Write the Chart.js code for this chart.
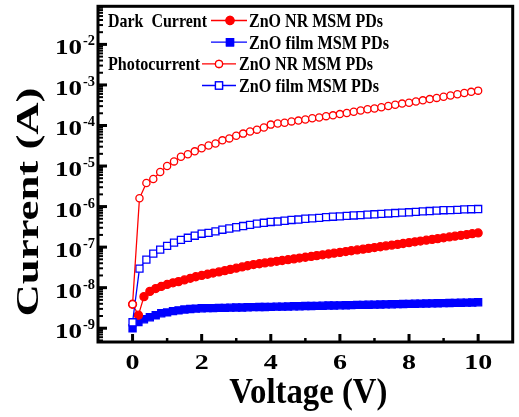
<!DOCTYPE html>
<html>
<head>
<meta charset="utf-8">
<script src="https://cdn.jsdelivr.net/npm/chart.js@4"></script>
<style>
  body { margin: 0; background: #fff; }
</style>
</head>
<body>
<canvas id="myChart" width="519" height="417"></canvas>
<script>
// voltage grids (V)
const vPhoto = [0, 0.2, 0.4, 0.6, 0.8, 1, 1.2, 1.4, 1.6, 1.8, 2, 2.2, 2.4, 2.6, 2.8, 3, 3.2, 3.4, 3.6, 3.8,
  4, 4.2, 4.4, 4.6, 4.8, 5, 5.2, 5.4, 5.6, 5.8, 6, 6.2, 6.4, 6.6, 6.8, 7, 7.2, 7.4, 7.6, 7.8,
  8, 8.2, 8.4, 8.6, 8.8, 9, 9.2, 9.4, 9.6, 9.8, 10];
const vDark = [0, 0.17, 0.33, 0.5, 0.67, 0.83, 1, 1.17, 1.33, 1.5, 1.67, 1.83, 2, 2.17, 2.33, 2.5, 2.67, 2.83,
  3, 3.17, 3.33, 3.5, 3.67, 3.83, 4, 4.17, 4.33, 4.5, 4.67, 4.83, 5, 5.17, 5.33, 5.5, 5.67, 5.83,
  6, 6.17, 6.33, 6.5, 6.67, 6.83, 7, 7.17, 7.33, 7.5, 7.67, 7.83, 8, 8.17, 8.33, 8.5, 8.67, 8.83,
  9, 9.17, 9.33, 9.5, 9.67, 9.83, 10];

// currents (A)
const darkNR = [3.9e-9, 2.1e-9, 6.0e-9, 8.1e-9, 9.5e-9, 1.07e-8, 1.2e-8, 1.32e-8, 1.41e-8, 1.55e-8, 1.70e-8, 1.86e-8, 2.0e-8,
  2.14e-8, 2.29e-8, 2.45e-8, 2.63e-8, 2.82e-8, 3.02e-8, 3.24e-8, 3.47e-8, 3.72e-8, 3.89e-8, 4.07e-8, 4.27e-8,
  4.47e-8, 4.68e-8, 4.90e-8, 5.13e-8, 5.37e-8, 5.62e-8, 5.89e-8, 6.17e-8, 6.46e-8, 6.76e-8, 7.08e-8, 7.41e-8,
  7.76e-8, 8.13e-8, 8.51e-8, 8.91e-8, 9.33e-8, 9.77e-8, 1.02e-7, 1.07e-7, 1.12e-7, 1.17e-7, 1.23e-7, 1.29e-7,
  1.35e-7, 1.41e-7, 1.48e-7, 1.55e-7, 1.62e-7, 1.70e-7, 1.78e-7, 1.86e-7, 1.95e-7, 2.04e-7, 2.14e-7, 2.24e-7];
const darkFilm = [1.0e-9, 1.41e-9, 1.66e-9, 1.86e-9, 2.09e-9, 2.34e-9, 2.45e-9, 2.63e-9, 2.75e-9, 2.9e-9, 2.98e-9, 3.05e-9, 3.1e-9,
  3.12e-9, 3.14e-9, 3.17e-9, 3.18e-9, 3.21e-9, 3.24e-9, 3.25e-9, 3.28e-9, 3.30e-9, 3.33e-9, 3.34e-9, 3.37e-9,
  3.40e-9, 3.41e-9, 3.44e-9, 3.47e-9, 3.48e-9, 3.52e-9, 3.54e-9, 3.56e-9, 3.59e-9, 3.62e-9, 3.63e-9, 3.67e-9,
  3.69e-9, 3.71e-9, 3.75e-9, 3.77e-9, 3.79e-9, 3.82e-9, 3.85e-9, 3.87e-9, 3.90e-9, 3.93e-9, 3.95e-9, 3.99e-9,
  4.01e-9, 4.04e-9, 4.06e-9, 4.10e-9, 4.13e-9, 4.15e-9, 4.19e-9, 4.21e-9, 4.25e-9, 4.28e-9, 4.31e-9, 4.36e-9];
const photoNR = [3.9e-9, 1.6e-6, 3.8e-6, 4.8e-6, 7.1e-6, 1.0e-5, 1.3e-5, 1.7e-5, 1.95e-5, 2.3e-5, 2.75e-5,
  3.2e-5, 3.6e-5, 4.3e-5, 4.8e-5, 5.6e-5, 6.3e-5, 7.1e-5, 7.9e-5, 8.9e-5, 1.05e-4,
  1.12e-4, 1.17e-4, 1.26e-4, 1.32e-4, 1.41e-4, 1.51e-4, 1.58e-4, 1.70e-4, 1.78e-4, 1.91e-4,
  2.04e-4, 2.19e-4, 2.34e-4, 2.51e-4, 2.63e-4, 2.82e-4, 3.02e-4, 3.24e-4, 3.47e-4, 3.63e-4,
  3.89e-4, 4.17e-4, 4.47e-4, 4.79e-4, 5.13e-4, 5.50e-4, 5.89e-4, 6.31e-4, 6.76e-4, 7.24e-4];
const photoFilm = [1.4e-9, 2.95e-8, 4.9e-8, 6.9e-8, 8.7e-8, 1.07e-7, 1.29e-7, 1.51e-7, 1.70e-7, 1.91e-7, 2.14e-7,
  2.24e-7, 2.45e-7, 2.69e-7, 2.88e-7, 3.09e-7, 3.31e-7, 3.55e-7, 3.80e-7, 3.98e-7, 4.17e-7,
  4.27e-7, 4.47e-7, 4.68e-7, 4.79e-7, 5.01e-7, 5.13e-7, 5.25e-7, 5.50e-7, 5.62e-7, 5.75e-7,
  5.89e-7, 6.03e-7, 6.17e-7, 6.31e-7, 6.46e-7, 6.61e-7, 6.76e-7, 6.92e-7, 7.08e-7, 7.24e-7,
  7.41e-7, 7.59e-7, 7.76e-7, 7.94e-7, 8.13e-7, 8.2e-7, 8.32e-7, 8.51e-7, 8.6e-7, 8.7e-7];

const xTicks = [0, 2, 4, 6, 8, 10];
const yExponents = [-9, -8, -7, -6, -5, -4, -3, -2];
const seriesNames = ['ZnO NR MSM PDs', 'ZnO film MSM PDs', 'ZnO NR MSM PDs', 'ZnO film MSM PDs'];
const groupNames = ['Dark  Current', 'Photocurrent'];

const RED = '#ff0000';
const BLUE = '#0000ff';
const SERIF = "'Liberation Serif', 'Times New Roman', 'DejaVu Serif', serif";

function pts(xs, ys) {
  return xs.map((x, i) => ({ x: x, y: ys[i] }));
}

// draw text squeezed/stretched to a given advance width (w) and vertical factor (sy)
function txt(ctx, s, x, y, size, w, sy, align) {
  ctx.save();
  ctx.font = 'bold ' + size + 'px ' + SERIF;
  const sx = w ? w / ctx.measureText(s).width : 1;
  ctx.translate(x, y);
  ctx.scale(sx, sy);
  ctx.textAlign = align;
  ctx.textBaseline = 'alphabetic';
  ctx.fillText(s, 0, 0);
  ctx.restore();
}

function seg(ctx, x1, y1, x2, y2) {
  ctx.beginPath();
  ctx.moveTo(x1, y1);
  ctx.lineTo(x2, y2);
  ctx.stroke();
}

const styles = [
  { color: RED, style: 'circle', fill: '#fff', r: 3.6 },
  { color: BLUE, style: 'rect', fill: '#fff', r: 5.0 },
  { color: RED, style: 'circle', fill: RED, r: 4.0 },
  { color: BLUE, style: 'rect', fill: BLUE, r: 5.0 }
];

// axes frame, inward ticks, labels and the grouped legend
const decorations = {
  id: 'decorations',
  afterDraw(chart) {
    const ctx = chart.ctx;
    const a = chart.chartArea;
    const xs = chart.scales.x;
    const ys = chart.scales.y;
    ctx.save();
    ctx.strokeStyle = '#000';
    ctx.fillStyle = '#000';
    ctx.lineCap = 'butt';

    // y ticks (major + minor)
    for (let e = -10; e <= -1; e++) {
      for (let m = 1; m <= 9; m++) {
        const v = m * Math.pow(10, e);
        if (v < ys.min || v > ys.max) continue;
        const y = ys.getPixelForValue(v);
        ctx.lineWidth = m === 1 ? 3 : 2;
        seg(ctx, a.left, y, a.left + (m === 1 ? 9 : 5), y);
      }
    }
    // x ticks
    for (let t = 0; t <= 10; t++) {
      const x = xs.getPixelForValue(t);
      ctx.lineWidth = t % 2 === 0 ? 3 : 2.5;
      seg(ctx, x, a.bottom, x, a.bottom - (t % 2 === 0 ? 8 : 4));
    }

    // frame
    ctx.lineWidth = 3;
    ctx.strokeRect(a.left, a.top, a.right - a.left, a.bottom - a.top);

    // y tick labels: 10 with superscript exponent
    yExponents.forEach(e => {
      const y = ys.getPixelForValue(Math.pow(10, e));
      txt(ctx, '10', 82, y + 10, 21, 27, 1, 'right');
      txt(ctx, '-' + Math.abs(e), 83, y + 1, 14, 12, 1, 'left');
    });
    // x tick labels
    xTicks.forEach(t => {
      const s = String(t);
      txt(ctx, s, xs.getPixelForValue(t), 369, 21, 14 * s.length, 1, 'center');
    });

    // axis titles
    txt(ctx, 'Voltage (V)', (a.left + a.right) / 2 + 3, 403, 36, 158, 1, 'center');
    ctx.save();
    ctx.translate(38, 202);
    ctx.rotate(-Math.PI / 2);
    txt(ctx, 'Current (A)', 0, 0, 31, 229, 1, 'center');
    ctx.restore();

    // legend
    const rows = [
      { base: 27, x1: 211, x2: 247, mx: 230, tx: 249, w: 134 },
      { base: 48.7, x1: 211, x2: 247, mx: 230, tx: 249, w: 140 },
      { base: 70.4, x1: 202, x2: 236, mx: 219, tx: 239, w: 134 },
      { base: 92, x1: 202, x2: 236, mx: 219, tx: 239, w: 140 }
    ];
    txt(ctx, groupNames[0], 108, rows[0].base, 19, 99, 1, 'left');
    txt(ctx, groupNames[1], 108, rows[2].base, 19, 92, 1, 'left');
    const order = [2, 3, 0, 1];
    rows.forEach((r, i) => {
      const s = styles[order[i]];
      const cy = r.base - 6.5;
      ctx.strokeStyle = s.color;
      ctx.lineWidth = 1.3;
      seg(ctx, r.x1, cy, r.x2, cy);
      Chart.helpers.drawPoint(ctx, {
        pointStyle: s.style, radius: s.r, borderWidth: 1.3, rotation: 0
      }, r.mx, cy);
      ctx.fillStyle = s.fill;
      ctx.fill();
      ctx.stroke();
      ctx.fillStyle = '#000';
      txt(ctx, seriesNames[i], r.tx, r.base, 19, r.w, 1, 'left');
    });
    ctx.restore();
  }
};

function ds(label, data, s) {
  return {
    label: label,
    data: data,
    borderColor: s.color,
    backgroundColor: s.fill,
    pointBackgroundColor: s.fill,
    pointBorderColor: s.color,
    pointStyle: s.style,
    pointRadius: s.r,
    pointBorderWidth: 1.3,
    borderWidth: 1.3,
    tension: 0,
    fill: false
  };
}

new Chart(document.getElementById('myChart'), {
  type: 'line',
  data: {
    datasets: [
      ds('Photocurrent ZnO NR MSM PDs', pts(vPhoto, photoNR), styles[0]),
      ds('Photocurrent ZnO film MSM PDs', pts(vPhoto, photoFilm), styles[1]),
      ds('Dark Current ZnO NR MSM PDs', pts(vDark, darkNR), styles[2]),
      ds('Dark Current ZnO film MSM PDs', pts(vDark, darkFilm), styles[3])
    ]
  },
  options: {
    responsive: false,
    animation: false,
    layout: { padding: { left: 98, top: 6, right: 1, bottom: 75 } },
    plugins: {
      legend: { display: false },
      title: { display: false },
      tooltip: { enabled: false }
    },
    scales: {
      x: { type: 'linear', min: -1, max: 11, display: false },
      y: { type: 'logarithmic', min: 4.57e-10, max: 0.087, display: false }
    }
  },
  plugins: [decorations]
});
</script>
</body>
</html>
